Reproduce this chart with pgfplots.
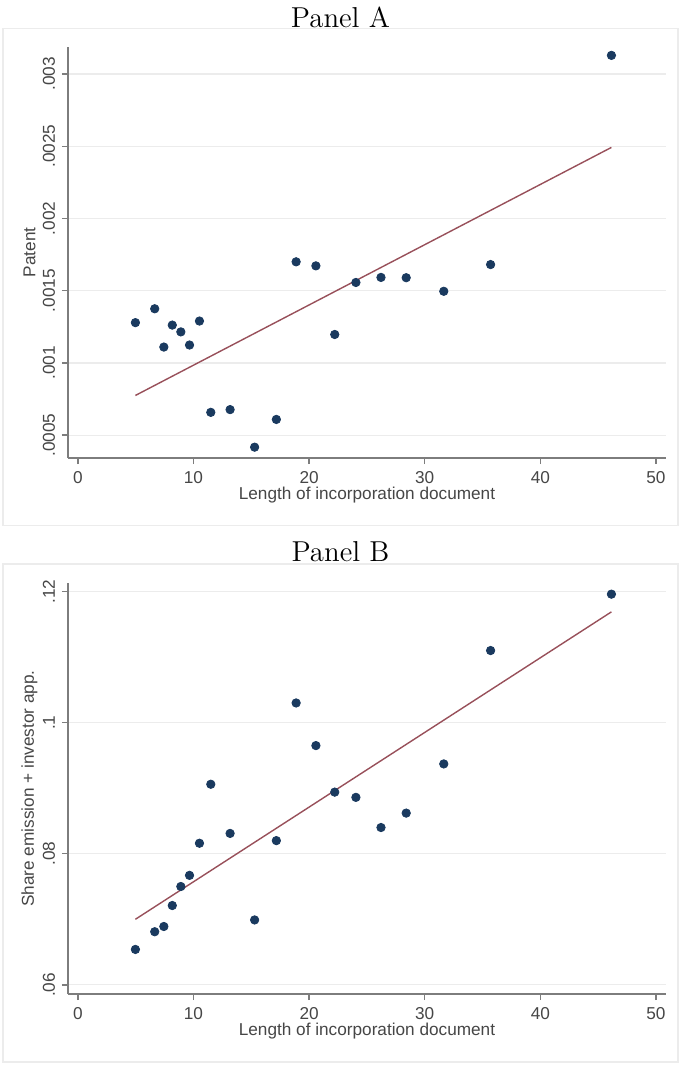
\documentclass[border=0pt]{standalone}
\usepackage{pgfplots}
\pgfplotsset{compat=1.18}
\usepackage{pgfplotstable}
\usepackage{fontspec}
\newfontfamily\statafont{Liberation Sans}

\definecolor{statanavy}{RGB}{26,58,95}
\definecolor{statamaroon}{RGB}{152,80,90}
\definecolor{axisgray}{RGB}{125,125,125}
\definecolor{gridgray}{RGB}{236,236,236}
\definecolor{labelgray}{RGB}{70,70,70}

% Panel A: patent share by document length
\pgfplotstableread{
x y
4.98 0.001279
6.65 0.001375
7.44 0.001110
8.17 0.001262
8.91 0.001215
9.66 0.001124
10.52 0.001290
11.50 0.000658
13.17 0.000677
15.29 0.000417
17.17 0.000609
18.88 0.001700
20.59 0.001672
22.22 0.001197
24.05 0.001557
26.22 0.001592
28.40 0.001590
31.65 0.001496
35.70 0.001681
46.15 0.003129
}\patentdata

% Panel B: share emission + investor approval
\pgfplotstableread{
x y
4.98 0.0654
6.65 0.0681
7.44 0.0689
8.17 0.0721
8.91 0.0750
9.66 0.0767
10.52 0.0816
11.50 0.0906
13.17 0.0831
15.29 0.0699
17.17 0.0820
18.88 0.1030
20.59 0.0965
22.22 0.0894
24.05 0.0886
26.22 0.0840
28.40 0.0862
31.65 0.0937
35.70 0.1110
46.15 0.1196
}\sharedata

\pgfplotsset{
  stataaxis/.style={
    scale only axis,
    width=299pt, height=205.5pt,
    axis x line=bottom, axis y line=left,
    axis line style={-, axisgray, line width=0.8pt},
    xmin=-0.85, xmax=50.87,
    xtick={0,10,20,30,40,50},
    xticklabels={0,10,20,30,40,50},
    tick align=outside, major tick length=3pt,
    tick style={axisgray, line width=0.7pt},
    ymajorgrids, grid style={gridgray, line width=0.6pt},
    scaled y ticks=false,
    ticklabel style={font=\statafont\fontsize{8.6}{10}\selectfont, text=labelgray},
    yticklabel style={rotate=90, anchor=south},
    label style={font=\statafont\fontsize{8.6}{10}\selectfont, text=labelgray},
    xlabel={Length of incorporation document},
    xlabel style={at={(axis description cs:0.5,-0.09)}, anchor=center},
    ylabel style={at={(axis description cs:-0.0645,0.5)}, anchor=center},
    clip=false,
  }
}

\begin{document}
\begin{tikzpicture}
\useasboundingbox (0,0) rectangle (340.5pt,-532.5pt);

% Panel A
\draw[gray!15, line width=0.6pt] (1.5pt,-14.35pt) rectangle (339pt,-262.9pt);
\node[font=\fontsize{14.4}{17}\selectfont] at (170.25pt,-8.5pt) {Panel A};
\begin{axis}[stataaxis,
  at={(34pt,-229pt)}, anchor=south west,
  ymin=0.000342, ymax=0.003187,
  ytick={0.0005,0.001,0.0015,0.002,0.0025,0.003},
  yticklabels={.0005,.001,.0015,.002,.0025,.003},
  ylabel={Patent},
]
\addplot[statamaroon, line width=0.7pt] coordinates {(4.98,0.000775) (46.15,0.002492)};
\addplot[only marks, mark=*, mark size=2.1pt, color=statanavy] table[x=x, y=y] {\patentdata};
\end{axis}

% Panel B
\draw[gray!15, line width=0.6pt] (1.5pt,-282pt) rectangle (339pt,-531pt);
\node[font=\fontsize{14.4}{17}\selectfont] at (170.25pt,-276pt) {Panel B};
\begin{axis}[stataaxis,
  at={(34pt,-497pt)}, anchor=south west,
  ymin=0.0586, ymax=0.1213,
  ytick={0.06,0.08,0.1,0.12},
  yticklabels={.06,.08,.1,.12},
  ylabel={Share emission + investor app.},
]
\addplot[statamaroon, line width=0.7pt] coordinates {(4.98,0.0700) (46.15,0.1169)};
\addplot[only marks, mark=*, mark size=2.1pt, color=statanavy] table[x=x, y=y] {\sharedata};
\end{axis}
\end{tikzpicture}
\end{document}
